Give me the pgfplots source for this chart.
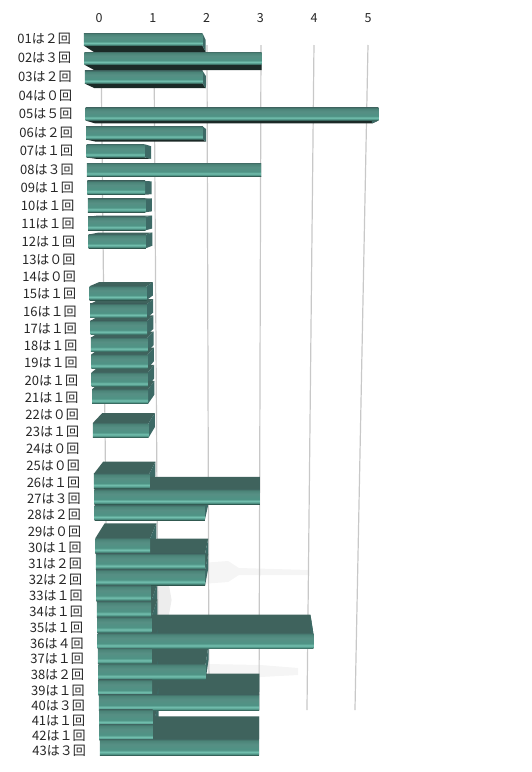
\documentclass[border=0pt]{standalone}
\usepackage{pgfplots}
\usepackage{pgfplotstable}
\usepackage{fontspec}
\setmainfont{Noto Sans CJK JP}
\pgfplotsset{compat=1.18}
\definecolor{gridc}{HTML}{C8C8C8}
\definecolor{topc}{HTML}{3F635D}
\definecolor{botc}{HTML}{1B2A27}
\definecolor{sidec}{HTML}{3D6A66}
\definecolor{barbot}{HTML}{2F564E}
\definecolor{barhi}{HTML}{73C0AF}
\definecolor{barmid}{HTML}{4F9385}
\definecolor{barmid2}{HTML}{568F84}
\definecolor{bartop}{HTML}{4B8478}
\definecolor{baredge}{HTML}{436F68}
\pgfdeclareverticalshading{barface}{100bp}{
 color(0bp)=(barbot);
 color(26bp)=(barbot);
 color(30bp)=(barmid);
 color(36bp)=(barhi);
 color(43bp)=(barmid);
 color(60bp)=(barmid2);
 color(71bp)=(bartop);
 color(75bp)=(baredge);
 color(100bp)=(baredge)}
\pgfplotstableread[col sep=space,string type]{
label y v
01は２回 38 2
02は３回 57 3
03は２回 76 2
04は０回 95 0
05は５回 113 5
06は２回 132 2
07は１回 150 1
08は３回 169 3
09は１回 187 1
10は１回 205 1
11は１回 223 1
12は１回 241 1
13は０回 259 0
14は０回 276 0
15は１回 293 1
16は１回 311 1
17は１回 328 1
18は１回 345 1
19は１回 362 1
20は１回 380 1
21は１回 397 1
22は０回 414 0
23は１回 431 1
24は０回 448 0
25は０回 465 0
26は１回 482 1
27は３回 498 3
28は２回 514 2
29は０回 531 0
30は１回 547 1
31は２回 563 2
32は２回 579 2
33は１回 595 1
34は１回 611 1
35は１回 627 1
36は４回 643 4
37は１回 658 1
38は２回 674 2
39は１回 690 1
40は３回 705 3
41は１回 720 1
42は１回 735 1
43は３回 750 3
}\data
% perspective of the picture: pixel positions of a bar of value v in a row at pixel height y
\newcommand\barcalc[2]{%
 \pgfmathsetmacro\xz{84+(#1-38)*16/712}%
 \pgfmathsetmacro\kk{59.2-(#1-38)*6.2/712}%
 \pgfmathsetmacro\xe{\xz+\kk*#2}%
 \pgfmathsetmacro\yc{#1+1.5-4*(#1-38)/712}%
 \pgfmathsetmacro\hh{6.3+(#1-38)*1.8/712}%
 \pgfmathsetmacro\yt{\yc-\hh}%
 \pgfmathsetmacro\yb{\yc+\hh}%
 \pgfmathsetmacro\bxz{\xz+0.055*(261-\xz)}%
 \pgfmathsetmacro\bxe{\xe+0.055*(261-\xe)}%
 \pgfmathsetmacro\byt{\yt+0.042*(190-\yt)}%
 \pgfmathsetmacro\byb{\yb+0.042*(190-\yb)}%
 \pgfmathsetmacro\Xz{(\xz-99)/53.8}%
 \pgfmathsetmacro\Xe{(\xe-99)/53.8}%
 \pgfmathsetmacro\bXz{(\bxz-99)/53.8}%
 \pgfmathsetmacro\bXe{(\bxe-99)/53.8}%
}
\newcommand\rowlab{%
 \pgfmathparse{17.2-15*(\tick-38)/712}\let\sft\pgfmathresult
 \pgfplotstablegetelem{\ticknum}{label}\of\data
 \mbox{\pgfplotsretval\hspace*{\sft pt}}}
\begin{document}
\begin{tikzpicture}[x=1pt,y=1pt]
\useasboundingbox (0,0) rectangle (532,772);
\begin{axis}[
 at={(88.24pt,12pt)},anchor=south west,
 scale only axis,width=333.56pt,height=732pt,
 xmin=-0.2,xmax=6,ymin=28,ymax=760,y dir=reverse,
 clip=false,
 axis line style={draw=none},
 major tick length=0pt,
 axis x line*=top,axis y line*=left,
 xtick={0,1,2,3,4,5},
 xticklabel style={font=\fontsize{12.5}{13}\selectfont,text=black!85,yshift=2pt},
 /pgf/number format/assume math mode=true,
 ytick={38,57,76,95,113,132,150,169,187,205,223,241,259,276,293,311,328,345,362,380,397,414,431,448,465,482,498,514,531,547,563,579,595,611,627,643,658,674,690,705,720,735,750},
 yticklabel={\rowlab},
 yticklabel style={font=\fontsize{13}{14}\selectfont,text=black!85,anchor=east,inner sep=0pt,yshift=-1pt},
 ]
% smudges behind the bars
\addplot[draw=none,fill=black!4] coordinates {(1.9,563) (2.4,561) (2.6,568) (3.9,570) (3.9,575) (2.6,575) (2.4,582) (1.9,584)} --cycle;
\addplot[draw=none,fill=black!4] coordinates {(2,664) (3,665) (3.7,668) (3.7,675) (3,677) (2,677)} --cycle;
\addplot[draw=none,fill=black!7] coordinates {(0.9,585) (1.3,585) (1.35,600) (1.3,615) (0.9,615)} --cycle;
% grid lines
\addplot[gridc,line width=1.2pt] coordinates {(0.037,45) (0.167,710)};
\addplot[gridc,line width=1.2pt] coordinates {(1.022,45) (1.105,710)};
\addplot[gridc,line width=1.2pt] coordinates {(2.007,45) (2.045,710)};
\addplot[gridc,line width=1.2pt] coordinates {(3.011,45) (2.974,710)};
\addplot[gridc,line width=1.2pt] coordinates {(3.996,45) (3.866,710)};
\addplot[gridc,line width=1.2pt] coordinates {(5.0,45) (4.758,710)};
% depth faces first
\pgfplotsforeachungrouped \i in {0,...,42}{%
 \pgfplotstablegetelem{\i}{y}\of\data\let\ry\pgfplotsretval
 \pgfplotstablegetelem{\i}{v}\of\data\let\rv\pgfplotsretval
 \ifnum\rv>0
  \barcalc{\ry}{\rv}%
  \ifdim\ry pt<190pt
   \edef\cmd{\noexpand\addplot[draw=none,fill=botc] coordinates {(\Xz,\yb) (\Xe,\yb) (\bXe,\byb) (\bXz,\byb)} --cycle;}\cmd
  \else
   \edef\cmd{\noexpand\addplot[draw=none,fill=topc] coordinates {(\Xz,\yt) (\Xe,\yt) (\bXe,\byt) (\bXz,\byt)} --cycle;}\cmd
  \fi
  \edef\cmd{\noexpand\addplot[draw=none,fill=sidec] coordinates {(\Xe,\yt) (\Xe,\yb) (\bXe,\byb) (\bXe,\byt)} --cycle;}\cmd
 \fi
}
% front faces
\pgfplotsforeachungrouped \i in {0,...,42}{%
 \pgfplotstablegetelem{\i}{y}\of\data\let\ry\pgfplotsretval
 \pgfplotstablegetelem{\i}{v}\of\data\let\rv\pgfplotsretval
 \ifnum\rv>0
  \barcalc{\ry}{\rv}%
  \edef\cmd{\noexpand\addplot[draw=none,shade,shading=barface] coordinates {(\Xz,\yt) (\Xe,\yt) (\Xe,\yb) (\Xz,\yb)} --cycle;}\cmd
 \fi
}
\end{axis}
\end{tikzpicture}
\end{document}
